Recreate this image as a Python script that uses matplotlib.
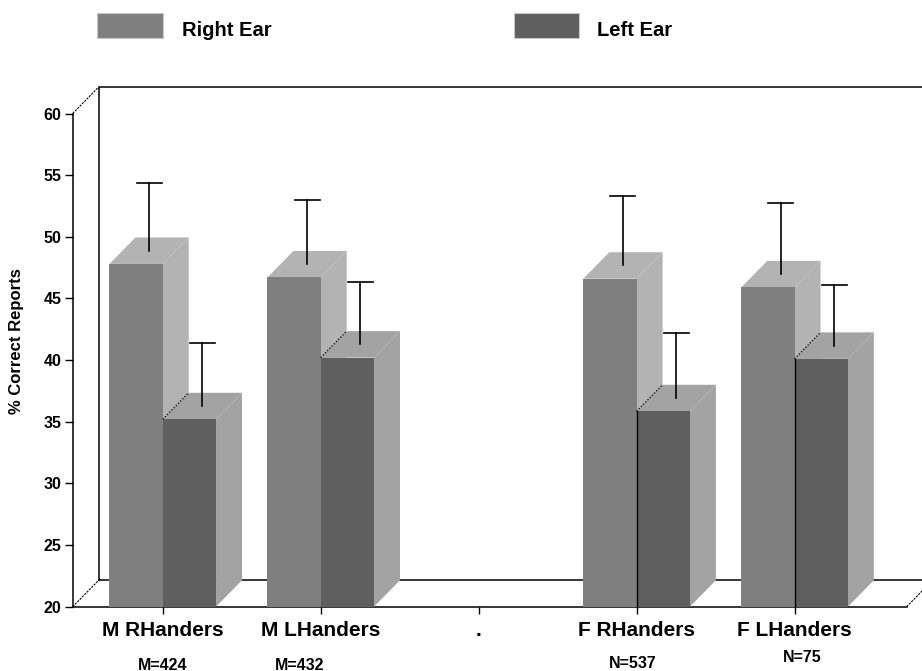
import numpy as np
import matplotlib.pyplot as plt
from matplotlib.patches import Polygon, Rectangle
from matplotlib.transforms import blended_transform_factory

plt.rcParams['font.family'] = ['Liberation Sans', 'DejaVu Sans']
plt.rcParams['font.weight'] = 'bold'

# data
groups = ["M RHanders", "M LHanders", ".", "F RHanders", "F LHanders"]
n_labels = ["M=424", "M=432", "", "N=537", "N=75"]
right_ear = [47.8, 46.7, np.nan, 46.6, 45.9]
left_ear = [35.2, 40.2, np.nan, 35.85, 40.1]
right_sd = [5.5, 5.2, np.nan, 5.6, 5.8]
left_sd = [5.1, 5.05, np.nan, 5.25, 4.9]
yticks = [20, 25, 30, 35, 40, 45, 50, 55, 60]

# colours
right_front, right_shade = "#7f7f7f", "#b3b3b3"
left_front, left_shade = "#5f5f5f", "#a3a3a3"

W, H = 922, 671
fig = plt.figure(figsize=(W / 100, H / 100), dpi=100)
ax = fig.add_axes([72.7 / W, 64.3 / H, 834 / W, 493.2 / H])
xl, xr = -0.57, 4.71
ax.set_xlim(xl, xr)
ax.set_ylim(20, 60)

# depth offset of the fake 3d, in data units
DX = 26 * (xr - xl) / 834
DY = 26.5 * 40 / 493.2
bw = 0.3375


def bar3d(x0, x1, v, face, shade):
    kw = dict(lw=0, clip_on=False, zorder=3)
    ax.add_patch(Polygon([(x0, v), (x1, v), (x1 + DX, v + DY), (x0 + DX, v + DY)], fc=shade, **kw))
    ax.add_patch(Polygon([(x1, 20), (x1 + DX, 20 + DY), (x1 + DX, v + DY), (x1, v)], fc=shade, **kw))
    ax.add_patch(Rectangle((x0, 20), x1 - x0, v - 20, fc=face, **kw))


def errbar(xc, v, sd):
    x = xc + DX / 2
    y = v + DY / 2
    cw = 12.5 * (xr - xl) / 834
    ax.plot([x, x], [y, y + sd], color="black", lw=1.2, clip_on=False, zorder=6)
    ax.plot([x - cw, x + cw], [y + sd, y + sd], color="black", lw=1.2, clip_on=False, zorder=6)


# back wall and floor
lk = dict(color="black", lw=1.1, clip_on=False, zorder=1)
ax.plot([xl + DX, xl + DX, xr + DX], [20 + DY, 60 + DY, 60 + DY], **lk)
ax.plot([xl + DX, xr + DX], [20 + DY, 20 + DY], **lk)
dk = dict(color="black", lw=0.8, ls=(0, (2, 1)), clip_on=False, zorder=1)
ax.plot([xl, xl + DX], [60, 60 + DY], **dk)
ax.plot([xl, xl + DX], [20, 20 + DY], **dk)
ax.plot([xr, xr + DX], [20, 20 + DY], **dk)

for i in range(len(groups)):
    r, l = right_ear[i], left_ear[i]
    if np.isnan(r):
        continue
    bar3d(i - bw, i, r, right_front, right_shade)
    bar3d(i, i + bw, l, left_front, left_shade)
    # hidden edge between the two bars
    ax.plot([i, i + DX], [l, l + DY], color="black", lw=0.9, ls=(0, (1, 1.5)),
            clip_on=False, zorder=4)
    if i >= 3:
        ax.plot([i, i], [20, l], color="black", lw=1.0, clip_on=False, zorder=4)
    errbar(i - bw / 2, r, right_sd[i])
    errbar(i + bw / 2, l, left_sd[i])

for s in ["top", "right"]:
    ax.spines[s].set_visible(False)
for s in ["left", "bottom"]:
    ax.spines[s].set_linewidth(1.1)
ax.set_facecolor("none")

ax.set_yticks(yticks)
ax.set_yticklabels([str(t) for t in yticks], fontsize=11.5, fontweight="bold")
ax.tick_params(axis="y", direction="out", length=6, width=1, pad=2)
ax.set_xticks(range(len(groups)))
ax.set_xticklabels(groups, fontsize=15, fontweight="bold")
ax.tick_params(axis="x", direction="out", length=5, width=1, pad=5)

fig.text(17 / W, 1 - 341 / H, "% Correct Reports", rotation=90, ha="center",
         va="center", fontsize=12, fontweight="bold")

# sample sizes under the category labels
n_x = [0.0, 0.866, 2.0, 2.975, 4.046]
n_y = [665, 665, 665, 663, 658]
tr = blended_transform_factory(ax.transData, fig.transFigure)
for lab, x, y in zip(n_labels, n_x, n_y):
    if lab:
        ax.text(x, 1 - y / H, lab, transform=tr, ha="center", va="center",
                fontsize=11.5, fontweight="bold")

# legend
fig.add_artist(Rectangle((97 / W, 1 - 38 / H), 66 / W, 25 / H, transform=fig.transFigure,
                         fc="#7f7f7f", ec="#c8c8c8", lw=0.8))
fig.text(182 / W, 1 - 30 / H, "Right Ear", ha="left", va="center", fontsize=14.5,
         fontweight="bold")
fig.add_artist(Rectangle((514 / W, 1 - 38 / H), 65 / W, 25 / H, transform=fig.transFigure,
                         fc="#5f5f5f", ec="#c8c8c8", lw=0.8))
fig.text(597 / W, 1 - 30 / H, "Left Ear", ha="left", va="center", fontsize=14.5,
         fontweight="bold")

fig.savefig("out.png", dpi=100)
